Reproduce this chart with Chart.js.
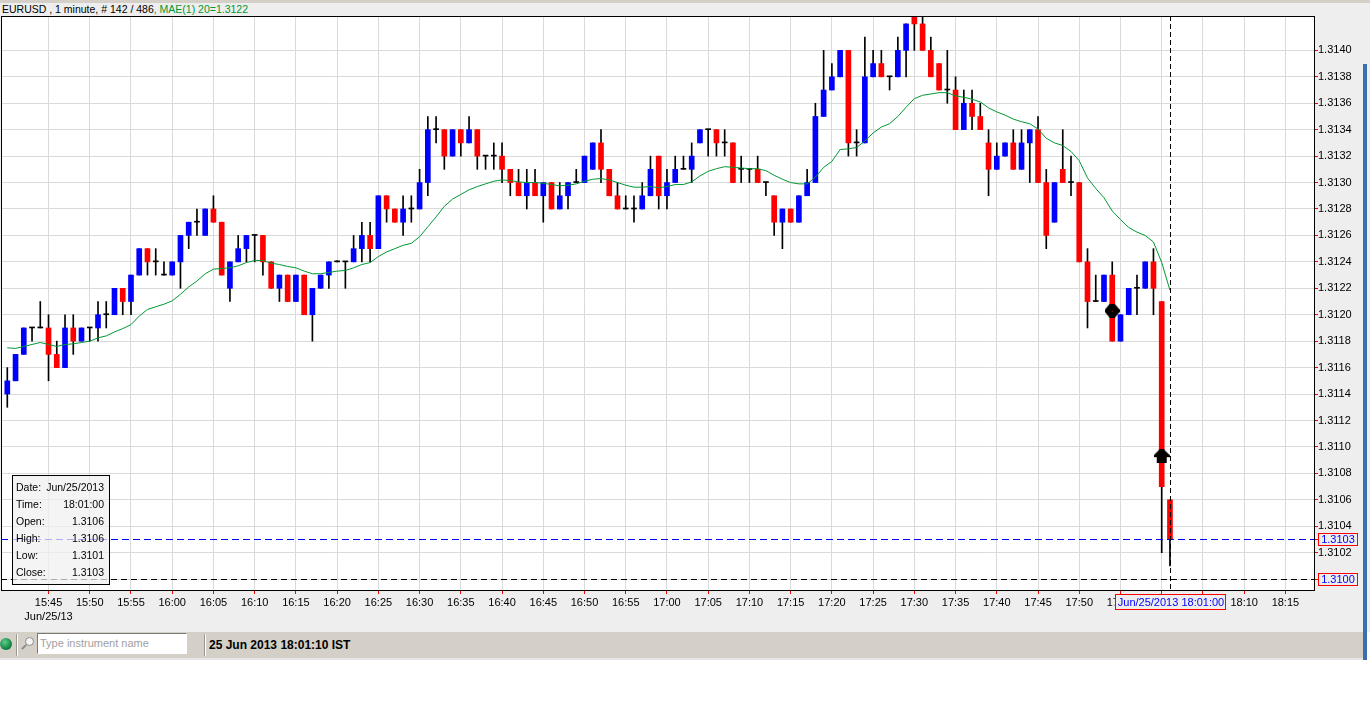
<!DOCTYPE html>
<html>
<head>
<meta charset="utf-8">
<title>EURUSD 1 minute</title>
<script src="https://cdn.jsdelivr.net/npm/chart.js@4.4.0/dist/chart.umd.min.js"></script>
<style>
  body { margin: 0; width: 1370px; height: 728px; background: #fff; overflow: hidden; position: relative;
         font-family: "Liberation Sans", Arial, sans-serif; }
  #panel { position: absolute; left: 0; top: 0; width: 1370px; height: 632px; background: #eeeeee; }
  #topband { position: absolute; left: 0; top: 0; width: 1370px; height: 3px; background: #d4d0c8; }
  #title { position: absolute; left: 2px; top: 3px; font-size: 10.5px; line-height: 13px; color: #000; white-space: nowrap; }
  #title span { color: #009933; }
  #chartbox { position: absolute; left: 0; top: 0; width: 1370px; height: 632px; }
  #info { position: absolute; left: 12px; top: 475px; width: 96px; height: 105px; border: 1px solid #000;
          background: rgba(240, 240, 240, 0.72); font-size: 10.5px; padding-top: 3px; box-sizing: content-box; }
  #info div { height: 17px; line-height: 17px; padding: 0 5px 0 3px; display: flex; justify-content: space-between; }
  #edge { position: absolute; left: 1363px; top: 64px; width: 4px; height: 596px; background: #3c6eb0; }
  #status { position: absolute; left: 0; top: 632px; width: 1363px; height: 26px; background: #d4d0c8; }
  #statusline { position: absolute; left: 0; top: 658px; width: 1363px; height: 2px; background: #e6e6e6; }
  #led { position: absolute; left: 0; top: 6px; width: 12px; height: 12px; border-radius: 6px;
         background: radial-gradient(circle at 40% 35%, #5fd08a, #0c7a3e 70%); }
  .sep { position: absolute; top: 2px; width: 1px; height: 22px; background: #9a9890; border-right: 1px solid #fff; }
  #lens { position: absolute; left: 25px; top: 5px; width: 7px; height: 7px; border: 1px solid #8a8a8a; border-radius: 5px; background: #f4f4f4; }
  #lens-handle { position: absolute; left: 21px; top: 14px; width: 6px; height: 2px; background: #8a8a8a; transform: rotate(-45deg); }
  #search { position: absolute; left: 37px; top: 1px; width: 146px; height: 19px; background: #fff;
            border-top: 1px solid #7a7a7a; border-left: 1px solid #7a7a7a; border-right: 1px solid #fff; border-bottom: 1px solid #fff;
            font-size: 11px; line-height: 19px; color: #a0a0a0; padding-left: 2px; }
  #clock { position: absolute; left: 209px; top: 0; font-size: 12px; font-weight: bold; line-height: 26px; color: #000; white-space: nowrap; }
</style>
</head>
<body>
<div id="panel"></div>
<div id="topband"></div>
<div id="title">EURUSD , 1 minute, # 142 / 486<span>, MAE(1) 20=1.3122</span></div>
<div id="chartbox"><canvas id="chart" width="1370" height="632"></canvas></div>
<div id="info"></div>
<div id="edge"></div>
<div id="status">
  <div id="led"></div>
  <div class="sep" style="left:16px"></div>
  <div id="lens"></div><div id="lens-handle"></div>
  <div id="search">Type instrument name</div>
  <div class="sep" style="left:204px"></div>
  <div id="clock">25 Jun 2013 18:01:10 IST</div>
</div>
<div id="statusline"></div>
<script>
// one candle per minute, first candle at 15:40
const firstCandle = '15:40';
const candleDate = 'Jun/25/2013';

const openPrices = [
  1.3114,1.3115,1.3117,1.3119,1.3119,1.3119,1.3117,1.3116,1.3119,1.3118,
  1.3119,1.3119,1.3120,1.3120,1.3122,1.3121,1.3123,1.3125,1.3124,1.3123,
  1.3123,1.3124,1.3126,1.3127,1.3126,1.3128,1.3127,1.3122,1.3124,1.3125,
  1.3126,1.3126,1.3124,1.3122,1.3123,1.3121,1.3123,1.3120,1.3122,1.3123,
  1.3124,1.3124,1.3124,1.3125,1.3126,1.3125,1.3129,1.3128,1.3127,1.3128,
  1.3128,1.3130,1.3134,1.3134,1.3132,1.3134,1.3133,1.3134,1.3132,1.3132,
  1.3132,1.3131,1.3130,1.3129,1.3130,1.3129,1.3130,1.3128,1.3129,1.3130,
  1.3130,1.3131,1.3133,1.3131,1.3129,1.3128,1.3128,1.3128,1.3129,1.3132,
  1.3129,1.3130,1.3131,1.3131,1.3133,1.3134,1.3134,1.3133,1.3133,1.3131,
  1.3131,1.3131,1.3130,1.3129,1.3127,1.3128,1.3127,1.3129,1.3130,1.3135,
  1.3137,1.3138,1.3140,1.3133,1.3133,1.3138,1.3139,1.3138,1.3138,1.3140,
  1.3143,1.3142,1.3140,1.3139,1.3137,1.3137,1.3134,1.3136,1.3135,1.3133,
  1.3131,1.3132,1.3133,1.3131,1.3133,1.3134,1.3130,1.3127,1.3131,1.3130,
  1.3130,1.3124,1.3121,1.3121,1.3123,1.3118,1.3120,1.3122,1.3122,1.3124,
  1.3121,1.3106
];
const highPrices = [
  1.3116,1.3117,1.3119,1.3119,1.3121,1.3120,1.3118,1.3120,1.3120,1.3119,
  1.3119,1.3121,1.3121,1.3122,1.3122,1.3123,1.3125,1.3125,1.3125,1.3124,
  1.3124,1.3126,1.3127,1.3128,1.3128,1.3129,1.3127,1.3124,1.3126,1.3126,
  1.3126,1.3126,1.3124,1.3123,1.3123,1.3123,1.3123,1.3122,1.3123,1.3124,
  1.3124,1.3124,1.3126,1.3127,1.3127,1.3129,1.3129,1.3128,1.3129,1.3129,
  1.3131,1.3135,1.3135,1.3134,1.3134,1.3134,1.3135,1.3134,1.3132,1.3133,
  1.3133,1.3131,1.3131,1.3131,1.3131,1.3130,1.3130,1.3130,1.3130,1.3131,
  1.3132,1.3133,1.3134,1.3131,1.3130,1.3129,1.3129,1.3130,1.3132,1.3132,
  1.3131,1.3132,1.3132,1.3133,1.3134,1.3134,1.3134,1.3134,1.3133,1.3132,
  1.3131,1.3132,1.3130,1.3129,1.3128,1.3128,1.3129,1.3131,1.3136,1.3140,
  1.3139,1.3140,1.3140,1.3134,1.3141,1.3140,1.3140,1.3138,1.3141,1.3142,
  1.3143,1.3143,1.3141,1.3139,1.3140,1.3138,1.3137,1.3137,1.3136,1.3134,
  1.3133,1.3133,1.3134,1.3134,1.3134,1.3135,1.3131,1.3130,1.3134,1.3132,
  1.3130,1.3125,1.3123,1.3123,1.3124,1.3120,1.3122,1.3123,1.3124,1.3125,
  1.3121,1.3106
];
const lowPrices = [
  1.3113,1.3115,1.3117,1.3118,1.3119,1.3115,1.3116,1.3116,1.3117,1.3118,
  1.3118,1.3118,1.3119,1.3120,1.3120,1.3120,1.3123,1.3123,1.3123,1.3123,
  1.3123,1.3122,1.3125,1.3126,1.3126,1.3127,1.3123,1.3121,1.3124,1.3124,
  1.3124,1.3123,1.3122,1.3121,1.3121,1.3121,1.3120,1.3118,1.3122,1.3122,
  1.3124,1.3122,1.3124,1.3124,1.3124,1.3125,1.3127,1.3127,1.3126,1.3127,
  1.3128,1.3129,1.3133,1.3131,1.3132,1.3132,1.3133,1.3131,1.3131,1.3131,
  1.3130,1.3129,1.3129,1.3128,1.3129,1.3127,1.3128,1.3128,1.3128,1.3130,
  1.3130,1.3131,1.3130,1.3129,1.3128,1.3128,1.3127,1.3128,1.3129,1.3128,
  1.3128,1.3130,1.3131,1.3130,1.3133,1.3132,1.3132,1.3132,1.3130,1.3130,
  1.3130,1.3130,1.3129,1.3126,1.3125,1.3127,1.3127,1.3129,1.3130,1.3135,
  1.3137,1.3138,1.3132,1.3132,1.3133,1.3138,1.3138,1.3137,1.3138,1.3138,
  1.3140,1.3140,1.3138,1.3137,1.3136,1.3134,1.3134,1.3134,1.3134,1.3129,
  1.3131,1.3132,1.3131,1.3131,1.3130,1.3130,1.3125,1.3127,1.3130,1.3129,
  1.3124,1.3119,1.3121,1.3121,1.3118,1.3118,1.3120,1.3120,1.3122,1.3120,
  1.3102,1.3101
];
const closePrices = [
  1.3115,1.3117,1.3119,1.3119,1.3119,1.3117,1.3116,1.3119,1.3118,1.3119,
  1.3119,1.3120,1.3120,1.3122,1.3121,1.3123,1.3125,1.3124,1.3124,1.3123,
  1.3124,1.3126,1.3127,1.3127,1.3128,1.3127,1.3123,1.3124,1.3125,1.3126,
  1.3126,1.3124,1.3122,1.3123,1.3121,1.3123,1.3120,1.3122,1.3123,1.3124,
  1.3124,1.3124,1.3125,1.3126,1.3125,1.3129,1.3128,1.3127,1.3128,1.3128,
  1.3130,1.3134,1.3134,1.3132,1.3134,1.3133,1.3134,1.3132,1.3132,1.3132,
  1.3131,1.3130,1.3129,1.3130,1.3129,1.3130,1.3128,1.3129,1.3130,1.3130,
  1.3132,1.3133,1.3131,1.3129,1.3128,1.3128,1.3128,1.3129,1.3131,1.3129,
  1.3130,1.3131,1.3131,1.3132,1.3134,1.3134,1.3133,1.3133,1.3130,1.3131,
  1.3131,1.3130,1.3130,1.3127,1.3128,1.3127,1.3129,1.3130,1.3135,1.3137,
  1.3138,1.3140,1.3133,1.3133,1.3138,1.3139,1.3138,1.3138,1.3140,1.3142,
  1.3142,1.3140,1.3138,1.3137,1.3137,1.3134,1.3136,1.3135,1.3134,1.3131,
  1.3132,1.3133,1.3131,1.3133,1.3134,1.3130,1.3126,1.3130,1.3130,1.3130,
  1.3124,1.3121,1.3121,1.3123,1.3118,1.3120,1.3122,1.3122,1.3124,1.3122,
  1.3107,1.3103
];
// MAE(1) 20 line
const maPrices = [
  1.311750,1.311745,1.311760,1.311775,1.311790,1.311775,1.311760,1.311775,1.311780,1.311790,
  1.311800,1.311825,1.311840,1.311870,1.311895,1.311925,1.311990,1.312040,1.312060,1.312080,
  1.312105,1.312155,1.312210,1.312255,1.312310,1.312345,1.312350,1.312355,1.312370,1.312395,
  1.312410,1.312410,1.312390,1.312380,1.312365,1.312355,1.312330,1.312310,1.312310,1.312320,
  1.312330,1.312335,1.312355,1.312380,1.312395,1.312440,1.312475,1.312500,1.312525,1.312540,
  1.312590,1.312665,1.312740,1.312820,1.312875,1.312910,1.312945,1.312970,1.312990,1.313010,
  1.313020,1.313015,1.313005,1.313000,1.313000,1.312995,1.312985,1.312975,1.312980,1.312990,
  1.313010,1.313025,1.313030,1.313020,1.313000,1.312980,1.312965,1.312965,1.312970,1.312960,
  1.312970,1.312985,1.312985,1.313005,1.313050,1.313085,1.313105,1.313120,1.313115,1.313110,
  1.313105,1.313105,1.313090,1.313055,1.313025,1.313000,1.312990,1.312990,1.313040,1.313115,
  1.313160,1.313250,1.313255,1.313265,1.313315,1.313375,1.313420,1.313445,1.313500,1.313570,
  1.313635,1.313660,1.313670,1.313680,1.313680,1.313655,1.313645,1.313630,1.313610,1.313565,
  1.313535,1.313510,1.313480,1.313460,1.313445,1.313405,1.313335,1.313300,1.313280,1.313235,
  1.313165,1.313035,1.312955,1.312885,1.312785,1.312720,1.312660,1.312625,1.312600,1.312550,
  1.312395,1.312185
];

const xTickLabels = ['15:45','15:50','15:55','16:00','16:05','16:10','16:15','16:20','16:25','16:30',
  '16:35','16:40','16:45','16:50','16:55','17:00','17:05','17:10','17:15','17:20','17:25','17:30',
  '17:35','17:40','17:45','17:50','17:55','18:00','18:05','18:10','18:15'];
const xDateLabel = 'Jun/25/13';
const yTickValues = [1.3100,1.3102,1.3104,1.3106,1.3108,1.3110,1.3112,1.3114,1.3116,1.3118,1.3120,
  1.3122,1.3124,1.3126,1.3128,1.3130,1.3132,1.3134,1.3136,1.3138,1.3140];

// trade markers (candle index, price)
const markerIndex = [134, 140];
const markerPrices = [1.31203, 1.31093];

// horizontal levels: last close (blue) and a drawn level (black)
const lastClose = 1.3103;
const drawnLevel = 1.3100;
const cursorIndex = 141;
const cursorLabel = 'Jun/25/2013 18:01:00';

const FONT = '"Liberation Sans", Arial, sans-serif';

function toMinutes(t) {
  const p = t.split(':');
  return +p[0] * 60 + +p[1];
}

const wickData = lowPrices.map((l, i) => ({ x: i, y: [l, highPrices[i]] }));
const bodyData = openPrices.map((o, i) => ({ x: i, y: [o, closePrices[i]] }));
const bodyColors = openPrices.map((o, i) =>
  closePrices[i] > o ? '#0000ff' : closePrices[i] < o ? '#ff0000' : '#000000');
const maData = maPrices.map((v, i) => ({ x: i, y: v }));
const markerData = markerIndex.map((ix, k) => ({ x: ix, y: markerPrices[k] }));

function makeBlob() {
  const c = document.createElement('canvas');
  c.width = 15; c.height = 14;
  const g = c.getContext('2d');
  g.fillStyle = '#000';
  g.beginPath();
  g.moveTo(5, 0); g.lineTo(10, 0); g.lineTo(15, 6); g.lineTo(15, 8);
  g.lineTo(10, 14); g.lineTo(5, 14); g.lineTo(0, 8); g.lineTo(0, 6);
  g.closePath(); g.fill();
  g.fillStyle = '#ff0000';
  g.fillRect(7, 7, 1, 1);
  return c;
}
function makeArrow() {
  const c = document.createElement('canvas');
  c.width = 16; c.height = 14;
  const g = c.getContext('2d');
  g.fillStyle = '#000';
  g.beginPath();
  g.moveTo(6, 0); g.lineTo(10, 0); g.lineTo(16, 6); g.lineTo(16, 8); g.lineTo(13, 8);
  g.lineTo(13, 14); g.lineTo(3, 14); g.lineTo(3, 8); g.lineTo(0, 8); g.lineTo(0, 6);
  g.closePath(); g.fill();
  return c;
}

function hLine(ctx, a, py, color, dash) {
  ctx.strokeStyle = color;
  ctx.setLineDash(dash);
  ctx.beginPath();
  ctx.moveTo(a.left, py);
  ctx.lineTo(a.right, py);
  ctx.stroke();
}

function priceBox(ctx, a, py, text) {
  ctx.strokeStyle = '#ff0000';
  ctx.beginPath(); ctx.moveTo(a.right, py + 0.5); ctx.lineTo(a.right + 3, py + 0.5); ctx.stroke();
  ctx.fillStyle = '#eeeeee';
  ctx.fillRect(a.right + 3, py - 6, 40, 13);
  ctx.strokeRect(a.right + 3.5, py - 5.5, 39, 12);
  ctx.fillStyle = '#0000ff';
  ctx.fillText(text, a.right + 23, py + 1);
}

const decor = {
  id: 'decor',
  beforeDraw(chart) {
    const { ctx, chartArea: a } = chart;
    ctx.save();
    ctx.fillStyle = '#ffffff';
    ctx.fillRect(a.left, a.top, a.right - a.left, a.bottom - a.top);
    ctx.restore();
  },
  afterDatasetsDraw(chart) {
    const { ctx, chartArea: a, scales: { x, y } } = chart;
    ctx.save();
    ctx.lineWidth = 1;
    hLine(ctx, a, Math.round(y.getPixelForValue(drawnLevel)) + 0.5, '#000000', [6, 4]);
    hLine(ctx, a, Math.round(y.getPixelForValue(lastClose)) + 0.5, 'rgb(0, 0, 255)', [7, 4]);
    const cx = Math.round(x.getPixelForValue(cursorIndex)) + 0.5;
    ctx.strokeStyle = '#000000';
    ctx.setLineDash([5, 3]);
    ctx.beginPath(); ctx.moveTo(cx, a.top); ctx.lineTo(cx, a.bottom); ctx.stroke();
    ctx.setLineDash([]);
    ctx.strokeRect(a.left + 0.5, a.top + 0.5, a.right - a.left - 1, a.bottom - a.top - 1);
    ctx.restore();
  },
  afterDraw(chart) {
    const { ctx, chartArea: a, scales: { x, y } } = chart;
    ctx.save();
    ctx.font = '11px ' + FONT;
    ctx.textAlign = 'center';
    ctx.textBaseline = 'middle';
    ctx.lineWidth = 1;
    ctx.setLineDash([]);
    priceBox(ctx, a, Math.round(y.getPixelForValue(lastClose)), lastClose.toFixed(4));
    priceBox(ctx, a, Math.round(y.getPixelForValue(drawnLevel)), drawnLevel.toFixed(4));
    const cx = Math.round(x.getPixelForValue(cursorIndex));
    const by = a.bottom + 3;
    ctx.fillStyle = '#eeeeee';
    ctx.fillRect(cx - 55, by, 111, 16);
    ctx.strokeStyle = '#ff0000';
    ctx.strokeRect(cx - 54.5, by + 0.5, 110, 15);
    ctx.fillStyle = '#0000ff';
    ctx.fillText(cursorLabel, cx + 1, by + 8.5);
    ctx.restore();
  }
};

new Chart(document.getElementById('chart'), {
  type: 'bar',
  data: {
    datasets: [
      {
        type: 'line', data: markerData, showLine: false, order: -1,
        pointStyle: [makeBlob(), makeArrow()], pointRadius: 7
      },
      {
        type: 'line', data: maData, borderColor: '#009933', borderWidth: 1,
        pointRadius: 0, tension: 0, fill: false, order: 0
      },
      {
        data: bodyData, backgroundColor: bodyColors, barThickness: 5, minBarLength: 1,
        grouped: false, borderWidth: 0, order: 1
      },
      {
        data: wickData, backgroundColor: '#000000', barThickness: 1, minBarLength: 1,
        grouped: false, borderWidth: 0, order: 2
      }
    ]
  },
  options: {
    responsive: false,
    animation: false,
    events: [],
    layout: { autoPadding: false, padding: { top: 16, left: 1, right: 0, bottom: 0 } },
    plugins: { legend: { display: false }, tooltip: { enabled: false } },
    scales: {
      x: {
        type: 'linear',
        min: -0.764,
        max: 158.59,
        offset: false,
        afterBuildTicks: s => {
          s.ticks = xTickLabels.map(l => ({ value: toMinutes(l) - toMinutes(firstCandle) }));
        },
        afterFit: s => { s.height = 41; },
        grid: { color: '#dadada', tickColor: '#ff0000', tickLength: 3, offset: false },
        border: { display: false },
        ticks: {
          autoSkip: false,
          maxRotation: 0,
          padding: 1,
          color: '#000',
          font: { family: FONT, size: 11, lineHeight: 1.36 },
          callback: (v, i) => i === 0 ? [xTickLabels[i], xDateLabel] : xTickLabels[i]
        }
      },
      y: {
        position: 'right',
        min: 1.30991,
        max: 1.31426,
        afterBuildTicks: s => { s.ticks = yTickValues.map(v => ({ value: v })); },
        afterFit: s => { s.width = 55; },
        grid: { color: '#dadada', tickColor: '#ff0000', tickLength: 3 },
        border: { display: false },
        ticks: {
          padding: 0,
          color: '#000',
          font: { family: FONT, size: 11 },
          callback: v => v.toFixed(4)
        }
      }
    }
  },
  plugins: [decor]
});

// data window for the cursor candle
const last = openPrices.length - 1;
const infoRows = [
  ['Date:', candleDate],
  ['Time:', '18:01:00'],
  ['Open:', openPrices[last].toFixed(4)],
  ['High:', highPrices[last].toFixed(4)],
  ['Low:', lowPrices[last].toFixed(4)],
  ['Close:', closePrices[last].toFixed(4)]
];
document.getElementById('info').innerHTML = infoRows
  .map(r => `<div><span>${r[0]}</span><span>${r[1]}</span></div>`).join('');
</script>
</body>
</html>
